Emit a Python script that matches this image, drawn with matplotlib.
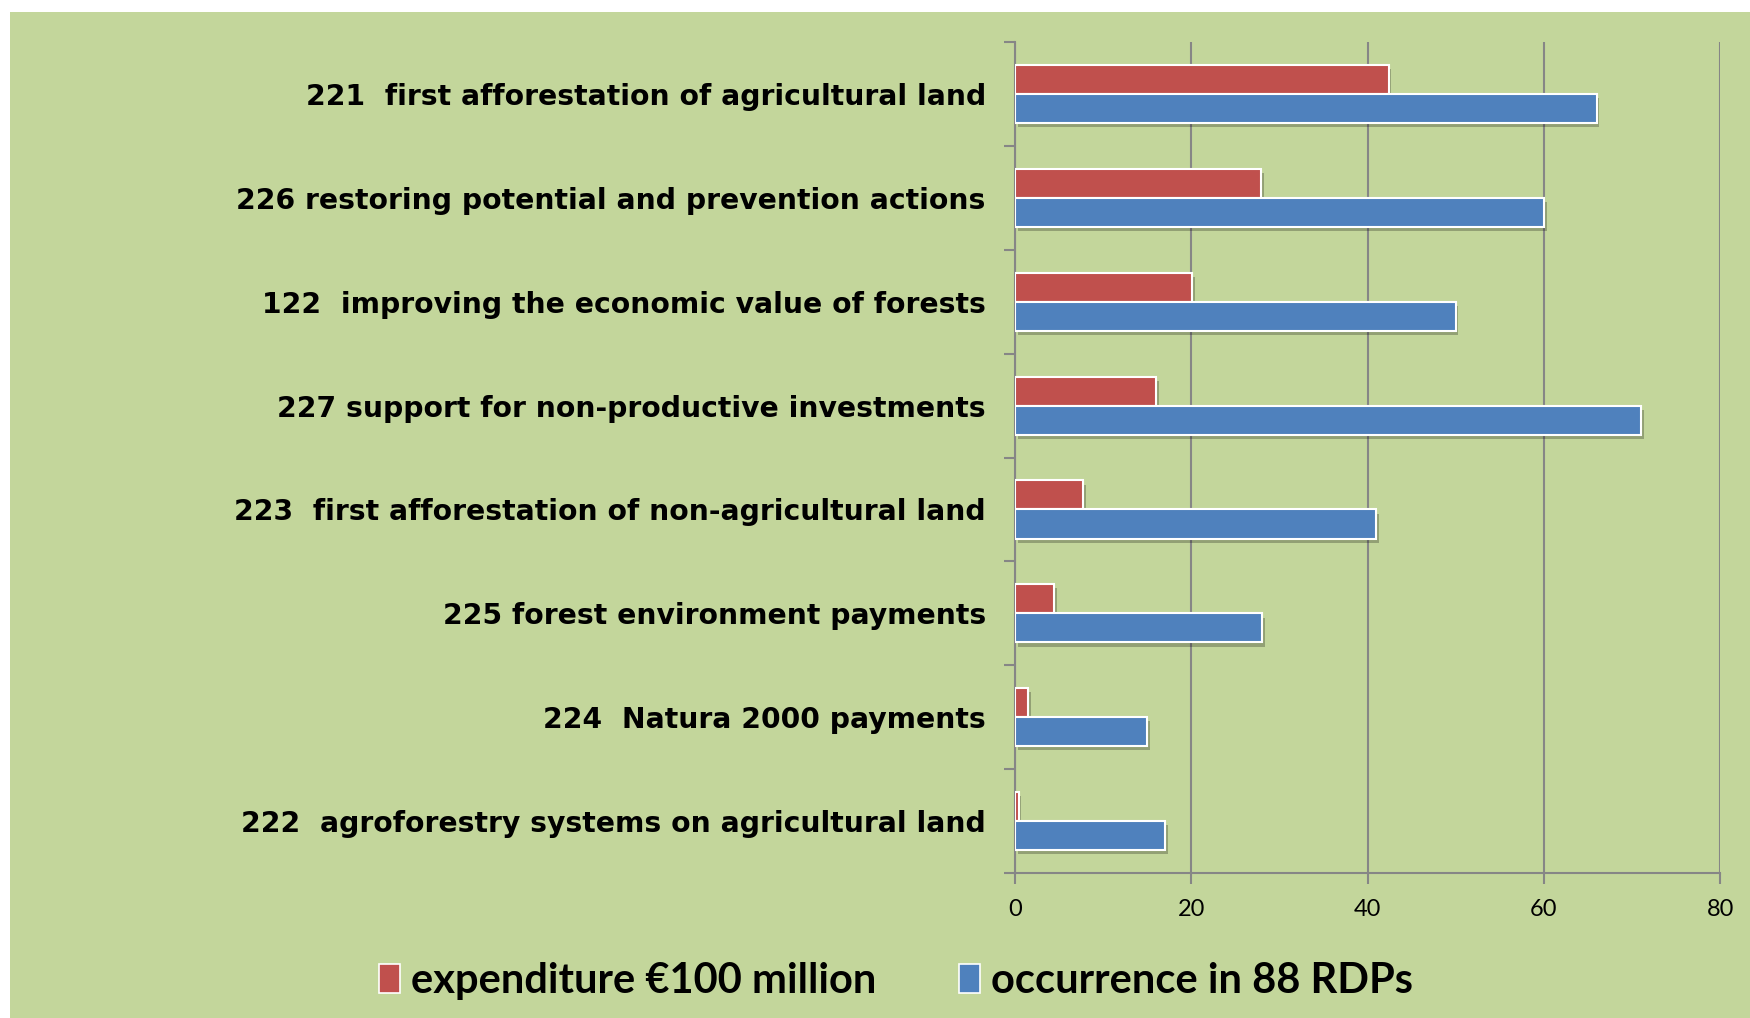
import matplotlib.pyplot as plt
import matplotlib.patheffects as pe
from matplotlib.patches import Rectangle, Patch
import numpy as np

measures = [
    "221  first afforestation of agricultural land",
    "226 restoring potential and prevention actions",
    "122  improving the economic value of forests",
    "227 support for non-productive investments",
    "223  first afforestation of non-agricultural land",
    "225 forest environment payments",
    "224  Natura 2000 payments",
    "222  agroforestry systems on agricultural land",
]
expenditure = [42.4, 27.9, 20.1, 16.0, 7.7, 4.4, 1.5, 0.4]
occurrence = [66, 60, 50, 71, 41, 28, 15, 17]
xticks = [0, 20, 40, 60, 80]

RED = "#C0504D"
BLUE = "#4F81BD"
GREEN = "#C3D69B"
GREY = "#868686"

fig = plt.figure(figsize=(17.5, 10.18), dpi=100)
fig.patch.set_facecolor("white")
bg = fig.add_axes([10 / 1750, 0, 1, 1 - 12 / 1018], zorder=-10)
bg.set_axis_off()
bg.add_patch(Rectangle((0, 0), 1, 1, transform=bg.transAxes, facecolor=GREEN, edgecolor="none"))

ax = fig.add_axes([0.58, 0.1424, 0.4029, 0.8163])
ax.set_facecolor("none")

y = np.arange(len(measures))
h = 0.28
shadow = [pe.SimplePatchShadow(offset=(2, -3), shadow_rgbFace="black", alpha=0.25), pe.Normal()]
b1 = ax.barh(y - h / 2, expenditure, height=h, color=RED, edgecolor="white", linewidth=1.5, zorder=3)
b2 = ax.barh(y + h / 2, occurrence, height=h, color=BLUE, edgecolor="white", linewidth=1.5, zorder=3)
for b in list(b1) + list(b2):
    b.set_path_effects(shadow)

ax.set_xlim(0, 80)
ax.set_ylim(len(measures) - 0.5, -0.5)
ax.set_xticks(xticks)
ax.set_xticklabels([str(t) for t in xticks], fontsize=17, family="Lato")
ax.set_yticks(np.arange(len(measures) + 1) - 0.5)
ax.set_yticklabels([])
ax.set_yticks(y, minor=True)
ax.set_yticklabels(measures, minor=True, fontsize=20.3, fontweight="bold", family="DejaVu Sans")
ax.tick_params(axis="y", which="minor", length=0, pad=21)
ax.tick_params(axis="both", which="major", length=8, width=1.5, color=GREY, direction="out")
ax.tick_params(axis="x", pad=11)

ax.grid(axis="x", color=GREY, linewidth=1.5, zorder=1)
ax.set_axisbelow(True)
for s in ["top", "right"]:
    ax.spines[s].set_visible(False)
for s in ["left", "bottom"]:
    ax.spines[s].set_color(GREY)
    ax.spines[s].set_linewidth(1.5)

handles = [Patch(facecolor=RED, edgecolor="white", linewidth=1.2),
           Patch(facecolor=BLUE, edgecolor="white", linewidth=1.2)]
leg = fig.legend(handles, ["expenditure €100 million", "occurrence in 88 RDPs"],
                 loc="center", bbox_to_anchor=(0.512, 1 - 981 / 1018), ncol=2, frameon=False,
                 prop={"family": "Lato", "weight": "bold", "size": 30},
                 handlelength=0.5, handleheight=0.7, handletextpad=0.25, columnspacing=2.0)

fig.savefig("out.png", dpi=100, facecolor=fig.get_facecolor())
